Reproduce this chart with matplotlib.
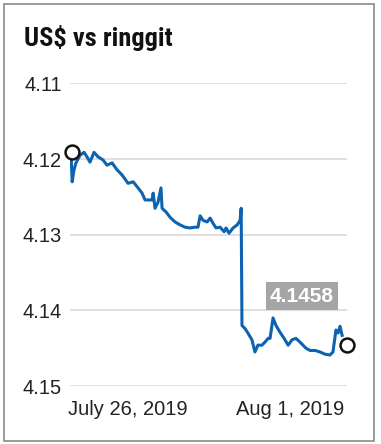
import matplotlib
matplotlib.use("Agg")
import matplotlib.pyplot as plt
from matplotlib.patches import Rectangle

# days relative to July 26, 2019 and the US$/ringgit rate
days = [-2.11, -2.07, -2.0, -1.93, -1.78, -1.63, -1.52, -1.41, -1.26, -1.11, -0.93,
        -0.78, -0.59, -0.41, -0.22, 0.0, 0.19, 0.37, 0.52, 0.63, 0.89, 0.93, 1.0,
        1.11, 1.22, 1.26, 1.41, 1.56, 1.74, 1.93, 2.11, 2.30, 2.48, 2.59, 2.67,
        2.78, 2.93, 3.04, 3.15, 3.26, 3.41, 3.56, 3.63, 3.74, 3.89, 4.04, 4.15,
        4.19, 4.22, 4.33, 4.44, 4.59, 4.70, 4.81, 4.96, 5.07, 5.19, 5.26, 5.37,
        5.48, 5.63, 5.78, 5.93, 6.07, 6.22, 6.37, 6.48, 6.59, 6.74, 6.93, 7.11,
        7.30, 7.48, 7.59, 7.70, 7.78, 7.85, 7.93]
rate = [4.1195, 4.1230, 4.1214, 4.1205, 4.1195, 4.1191, 4.1197, 4.1204, 4.1191,
        4.1197, 4.1201, 4.1208, 4.1205, 4.1214, 4.1221, 4.1232, 4.1230, 4.1238,
        4.1245, 4.1254, 4.1254, 4.1245, 4.1265, 4.1257, 4.1238, 4.1265, 4.1270,
        4.1277, 4.1283, 4.1287, 4.1290, 4.1291, 4.1290, 4.1290, 4.1275, 4.1281,
        4.1283, 4.1278, 4.1285, 4.1291, 4.1290, 4.1296, 4.1291, 4.1298, 4.1291,
        4.1287, 4.1281, 4.1265, 4.1420, 4.1424, 4.1430, 4.1439, 4.1455, 4.1446,
        4.1446, 4.1442, 4.1437, 4.1437, 4.1410, 4.1420, 4.1429, 4.1437, 4.1446,
        4.1439, 4.1437, 4.1442, 4.1446, 4.1450, 4.1453, 4.1453, 4.1455, 4.1458,
        4.1459, 4.1455, 4.1426, 4.1430, 4.1421, 4.1433]

start_pt = (-2.07, 4.1191)
end_pt = (8.11, 4.1446)
yticks = [4.11, 4.12, 4.13, 4.14, 4.15]
xticks = [0, 6]
xlabels = ["July 26, 2019", "Aug 1, 2019"]
title = "US$ vs ringgit"
hover_text = "4.1458"

W, H = 381, 444
fig = plt.figure(figsize=(W / 100, H / 100), dpi=100)
fig.patch.set_facecolor("white")

# outer frame
fig.patches.append(Rectangle((4 / W, 3 / H), 370 / W, 437 / H, transform=fig.transFigure,
                             fill=False, edgecolor="#8a8a8a", linewidth=1.2))

ax = fig.add_axes([70 / W, 1 - 386 / H, 277 / W, (386 - 83.5) / H])
ax.set_xlim(-2.15, 8.11)
ax.set_ylim(4.15, 4.11)

for s in ax.spines.values():
    s.set_visible(False)
ax.set_yticks(yticks)
ax.set_yticklabels([f"{v:.2f}" for v in yticks])
ax.set_xticks(xticks)
ax.set_xticklabels(xlabels)
ax.tick_params(axis="y", length=0, pad=6, labelsize=14.5, labelcolor="#222222")
ax.tick_params(axis="x", length=0, pad=10, labelsize=14.5, labelcolor="#222222")
for lbl in ax.get_xticklabels() + ax.get_yticklabels():
    lbl.set_family(["Liberation Sans", "DejaVu Sans"])
ax.grid(axis="y", color="#dddddd", linewidth=1.3)
ax.grid(axis="x", visible=False)

ax.plot(days, rate, color="#0d63b1", linewidth=2.2, solid_joinstyle="round", zorder=3)
ax.plot(*start_pt, marker="o", markersize=10, markerfacecolor="white",
        markeredgecolor="#111111", markeredgewidth=1.8, clip_on=False, zorder=5)
ax.plot(*end_pt, marker="o", markersize=10, markerfacecolor="white",
        markeredgecolor="#111111", markeredgewidth=1.8, clip_on=False, zorder=5)

ax.text(6.44, 4.1381, hover_text, ha="center", va="center", color="white",
        fontsize=15, fontweight="bold", family=["Liberation Sans", "DejaVu Sans"],
        bbox=dict(boxstyle="square,pad=0.2", facecolor="#a5a5a5", edgecolor="none"),
        zorder=6)

fig.text(24 / W, 1 - 46 / H, title, ha="left", va="baseline", fontsize=19,
         fontweight="bold", color="#111111",
         family=["Liberation Sans Narrow", "Roboto Condensed", "Liberation Sans", "DejaVu Sans"])

fig.savefig("out.png", dpi=100)
